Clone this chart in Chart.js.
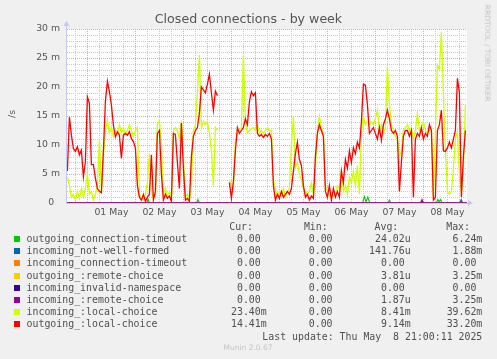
<!DOCTYPE html>
<html>
<head>
<meta charset="utf-8">
<script src="https://cdn.jsdelivr.net/npm/chart.js@4"></script>
<style>
html, body { margin: 0; padding: 0; }
body { background: #f0f0f0; width: 497px; height: 359px; overflow: hidden; position: relative; font-family: 'DejaVu Sans', sans-serif; color: #555; }
#chart { position: absolute; left: 0; top: 0; }
.t { position: absolute; white-space: pre; line-height: 12px; }
.mono { font-family: 'DejaVu Sans Mono', monospace; font-size: 9.9px; color: #505050; }
.sq { position: absolute; width: 6px; height: 6px; }
</style>
</head>
<body>
<canvas id="chart" width="497" height="359"></canvas>
<div class="t" style="left:248.5px; top:19px; transform:translate(-50%,-50%); font-size:12.6px; color:#555;">Closed connections - by week</div>
<div class="t" style="left:11.5px; top:113.5px; transform:translate(-50%,-50%) rotate(-90deg); font-size:9.3px;">/s</div>
<div class="t" style="left:487px; top:53px; transform:translate(-50%,-50%) rotate(90deg); font-size:7.5px; color:#c4c4c4;">RRDTOOL / TOBI OETIKER</div>
<div id="legend"></div>
<script>
// time axis: hours since 30 Apr 00:00, one sample per hour
const startHour = 14;
const dayLabels = ['01 May', '02 May', '03 May', '04 May', '05 May', '06 May', '07 May', '08 May'];

const outgoingLocal = [
  5.5, 14.8, 11.7, 9.4, 8.9, 9.7, 8.3, 9.1, 4.5, 7.1,
  18.3, 17.2, 6.6, 6.6, 4.3, 2.5, 2.0, 1.8, 9.0, 17.5,
  21.0, 19.2, 16.9, 13.4, 11.4, 12.3, 11.7, 7.7, 11.7, 12.0,
  11.7, 12.3, 11.1, 10.6, 9.5, 3.0, 1.0, 0.5, 1.5, 0.3,
  1.0, 1.5, 8.3, 0.5, 2.0, 12.0, 12.5, 5.0, 0.5, 1.5,
  0.8, 1.2, 0.3, 12.0, 11.8, 7.0, 2.5, 13.8, 6.0, 0.5,
  0.8, 0.3, 8.0, 11.5, 12.5, 13.0, 15.5, 20.0, 19.5, 19.0,
  20.5, 22.2, 19.0, 16.0, 19.3, 18.5, null, null, null, null,
  null, 3.5, 0.8, 3.7, 9.0, 13.0, 12.0, 12.5, 13.0, 14.5,
  13.5, 17.5, 19.2, 18.5, 19.0, 12.0, 11.5, 11.8, 11.3, 11.8,
  11.5, 12.0, 11.0, 3.0, 0.5, 1.5, 0.8, 2.0, 1.0, 1.5,
  2.0, 1.5, 2.5, 5.5, 8.5, 10.5, 7.5, 6.5, 3.0, 1.0,
  1.5, 0.5, 1.2, 0.8, 8.0, 12.0, 13.5, 12.5, 11.5, 2.0,
  1.0, 3.0, 0.5, 2.5, 1.0, 2.0, 1.0, 5.5, 3.5, 7.5,
  6.0, 9.0, 7.0, 9.5, 8.5, 10.5, 9.5, 14.0, 20.5, 20.3,
  17.0, 12.0, 12.5, 13.0, 12.0, 11.0, 13.0, 10.8, 13.5, 14.5,
  16.0, 14.5, 12.5, 12.0, 12.5, 11.5, 2.0, 7.0, 11.5, 12.5,
  12.5, 11.5, 12.5, 1.0, 11.0, 12.0, 11.5, 13.0, 11.0, 12.0,
  11.5, 13.5, 12.5, 0.5, 1.0, 12.5, 13.5, 16.0, 9.0, 8.9,
  9.5, 10.5, 9.5, 11.0, 12.5, 21.5, 19.0, 1.0, 8.0, 12.5
];

const incomingLocal = [
  4.5, 3.0, 1.0, 1.5, 0.5, 2.0, 0.8, 2.5, 1.0, 2.5,
  5.0, 1.5, 2.0, 0.5, 1.5, 3.0, 11.0, 2.0, 8.0, 12.5,
  14.3, 12.0, 13.0, 11.5, 12.5, 11.8, 13.5, 12.0, 13.0, 11.8,
  12.5, 13.5, 12.5, 11.5, 12.5, 13.0, 1.5, 1.0, 0.5, 1.5,
  3.5, 8.5, 2.0, 0.8, 1.0, 13.5, 14.2, 10.0, 1.5, 2.5,
  1.0, 2.0, 1.0, 12.5, 13.0, 12.5, 11.0, 14.2, 8.0, 1.0,
  1.5, 0.5, 3.0, 12.5, 13.5, 19.0, 25.5, 13.0, 14.0, 13.5,
  14.0, 12.0, 9.0, 3.0, 13.0, 12.5, null, null, null, null,
  null, 4.0, 3.0, 2.5, 10.5, 12.0, 12.5, 13.0, 25.5, 14.0,
  12.0, 12.5, 12.8, 13.0, 12.5, 13.5, 12.0, 12.5, 12.0, 12.5,
  13.0, 12.5, 12.5, 4.0, 2.5, 1.0, 2.0, 1.0, 2.5, 1.0,
  2.0, 2.5, 10.0, 15.0, 6.0, 7.0, 5.0, 4.0, 2.5, 2.0,
  1.5, 2.0, 3.5, 1.5, 6.0, 12.5, 15.0, 13.0, 12.0, 3.0,
  2.0, 1.0, 2.0, 1.0, 1.5, 3.0, 2.5, 5.5, 2.0, 3.0,
  1.5, 4.5, 3.5, 5.5, 3.0, 6.5, 1.5, 12.0, 15.0, 13.5,
  14.0, 13.5, 14.0, 13.5, 14.5, 16.0, 12.5, 13.5, 12.0, 13.0,
  23.5, 17.0, 13.5, 12.5, 11.5, 11.0, 8.0, 9.0, 12.5, 13.0,
  13.5, 12.5, 13.0, 11.0, 12.5, 15.5, 12.5, 13.0, 14.0, 12.5,
  12.0, 12.5, 13.0, 1.0, 12.0, 23.8, 23.0, 29.5, 19.0, 9.0,
  2.0, 1.5, 2.0, 6.0, 11.0, 12.3, 5.0, 2.0, 6.0, 17.0
];

// the small series are zero almost everywhere: [hour, value] pairs
const outgoingTimeout = [[13.8, 0], [53.6, 0], [54.3, 0.7], [55, 0], [78.6, 0], [79.3, 0.6], [80, 0],
  [161.6, 0], [162.5, 1.1], [163.3, 0.2], [164.2, 1.0], [165.2, 0], [174.3, 0], [175, 0.5], [175.7, 0],
  [198.4, 0], [199.2, 0.6], [199.9, 0.2], [200.6, 0.6], [201.3, 0], [213.8, 0]];
const incomingNotWellFormed = [[13.8, 0], [210.2, 0], [210.9, 0.6], [211.6, 0], [213.8, 0]];
const incomingTimeout = [[13.8, 0], [213.8, 0]];
const outgoingRemote = [[13.8, 0], [213.8, 0]];
const incomingInvalidNs = [[13.8, 0], [213.8, 0]];
const incomingRemote = [[13.8, 0], [190.6, 0], [191.3, 0.6], [192, 0], [213.8, 0]];

const names = ['outgoing_connection-timeout', 'incoming_not-well-formed', 'incoming_connection-timeout',
  'outgoing_:remote-choice', 'incoming_invalid-namespace', 'incoming_:remote-choice',
  'incoming_:local-choice', 'outgoing_:local-choice'];
const colors = ['#00cc00', '#0066b3', '#ff8000', '#ffcc00', '#330099', '#990099', '#ccff00', '#ff0000'];
const curVals = ['0.00 ', '0.00 ', '0.00 ', '0.00 ', '0.00 ', '0.00 ', '23.40m', '14.41m'];
const minVals = ['0.00 ', '0.00 ', '0.00 ', '0.00 ', '0.00 ', '0.00 ', '0.00 ', '0.00 '];
const avgVals = ['24.02u', '141.76u', '0.00 ', '3.81u', '0.00 ', '1.87u', '8.41m', '9.14m'];
const maxVals = ['6.24m', '1.88m', '0.00 ', '3.25m', '0.00 ', '3.25m', '39.62m', '33.20m'];

const pairs = arr => arr.map(p => ({x: p[0], y: p[1]}));
const hourly = arr => arr.map((v, i) => ({x: startHour + i, y: v}));

const seriesData = [
  pairs(outgoingTimeout), pairs(incomingNotWellFormed), pairs(incomingTimeout), pairs(outgoingRemote),
  pairs(incomingInvalidNs), pairs(incomingRemote), hourly(incomingLocal), hourly(outgoingLocal)
];
// munin draws the last one on top
const drawOrder = [7, 6, 5, 4, 3, 2, 1, 0];

let datasets = seriesData.map((d, i) => ({
  label: names[i],
  data: d,
  borderColor: colors[i],
  backgroundColor: colors[i],
  borderWidth: i >= 6 ? 1.3 : 1.1,
  pointRadius: 0,
  tension: 0,
  spanGaps: false,
  order: drawOrder[i]
}));

const majorGrid = '#eba3a3';
const minorGrid = '#c9c9c9';
const axisColor = '#c4c8f4';

// white plot area, dotted rrdtool grid, axis lines and arrows
const rrdFrame = {
  id: 'rrdFrame',
  beforeDraw(chart) {
    const a = chart.chartArea, c = chart.ctx;
    c.save();
    c.fillStyle = '#ffffff';
    c.fillRect(a.left, a.top, a.right - a.left, a.bottom - a.top);
    c.restore();
  },
  beforeDatasetsDraw(chart) {
    const a = chart.chartArea, c = chart.ctx;
    const xs = chart.scales.x, ys = chart.scales.y;
    c.save();
    c.lineWidth = 1;
    c.setLineDash([1, 1]);
    const line = (x1, y1, x2, y2, col) => {
      c.strokeStyle = col;
      c.beginPath();
      c.moveTo(x1, y1);
      c.lineTo(x2, y2);
      c.stroke();
    };
    // minor first, major over it
    [false, true].forEach(major => {
      ys.ticks.forEach(t => {
        if ((t.value % 5 === 0) !== major) return;
        const y = Math.round(ys.getPixelForValue(t.value)) + 0.5;
        line(a.left, y, a.right, y, major ? majorGrid : minorGrid);
      });
      xs.ticks.forEach(t => {
        if ((t.value % 24 === 0) !== major) return;
        const x = Math.round(xs.getPixelForValue(t.value)) + 0.5;
        line(x, a.top, x, a.bottom, major ? majorGrid : minorGrid);
      });
    });
    c.setLineDash([]);
    c.strokeStyle = axisColor;
    c.beginPath();
    c.moveTo(a.left - 0.5, a.bottom);
    c.lineTo(a.left - 0.5, a.top - 3);
    c.moveTo(a.left - 1, a.bottom + 0.5);
    c.lineTo(a.right + 2, a.bottom + 0.5);
    c.stroke();
    c.restore();
  },
  afterDraw(chart) {
    const a = chart.chartArea, c = chart.ctx;
    c.save();
    c.fillStyle = axisColor;
    c.beginPath();
    c.moveTo(a.left - 3.5, a.top - 3);
    c.lineTo(a.left + 2.5, a.top - 3);
    c.lineTo(a.left - 0.5, a.top - 8);
    c.closePath();
    c.fill();
    c.beginPath();
    c.moveTo(a.right + 1, a.bottom - 3);
    c.lineTo(a.right + 1, a.bottom + 3);
    c.lineTo(a.right + 6, a.bottom);
    c.closePath();
    c.fill();
    c.restore();
  }
};

const tickFont = {family: 'DejaVu Sans', size: 9.3};

new Chart(document.getElementById('chart').getContext('2d'), {
  type: 'line',
  data: {datasets: datasets},
  options: {
    responsive: false,
    animation: false,
    layout: {padding: {top: 29, right: 30, left: 0, bottom: 0}},
    plugins: {legend: {display: false}, tooltip: {enabled: false}, title: {display: false}},
    scales: {
      x: {
        type: 'linear',
        min: 13.8,
        max: 213.8,
        afterFit(s) { s.height = 156; },
        grid: {display: false, drawTicks: false},
        border: {display: false},
        ticks: {
          stepSize: 6,
          includeBounds: false,
          autoSkip: false,
          maxRotation: 0,
          maxTicksLimit: 1000,
          padding: 4,
          color: '#555',
          font: tickFont,
          callback: v => ((v - 12) % 24 === 0 && dayLabels[(v - 36) / 24]) ? dayLabels[(v - 36) / 24] : ''
        }
      },
      y: {
        min: 0,
        max: 30,
        afterFit(s) { s.width = 67; },
        grid: {display: false, drawTicks: false},
        border: {display: false},
        ticks: {
          stepSize: 1,
          autoSkip: false,
          maxTicksLimit: 1000,
          padding: 7,
          color: '#555',
          font: tickFont,
          callback: v => v % 5 !== 0 ? '' : (v === 0 ? '0  ' : v + ' m')
        }
      }
    }
  },
  plugins: [rrdFrame]
});

// munin style legend table under the graph
const legend = document.getElementById('legend');
function addText(txt, css, cls) {
  const d = document.createElement('div');
  d.className = 't ' + (cls || '');
  d.textContent = txt;
  d.style.cssText += css;
  legend.append(d);
}
const colRight = [230.3, 158.5, 86.3, 14.7];
const headRight = [244, 169.3, 98.7, 27];
['Cur:', 'Min:', 'Avg:', 'Max:'].forEach((h, j) => addText(h, `right:${headRight[j]}px; top:221.3px;`, 'mono'));
names.forEach((n, i) => {
  const cy = 239.3 + 12.06 * i;
  const sq = document.createElement('div');
  sq.className = 'sq';
  sq.style.cssText = `left:14px; top:${(cy - 3).toFixed(1)}px; background:${colors[i]};`;
  legend.append(sq);
  addText(n, `left:26.6px; top:${(cy - 6).toFixed(1)}px;`, 'mono');
  [curVals, minVals, avgVals, maxVals].forEach((col, j) => {
    addText(col[i], `right:${colRight[j]}px; top:${(cy - 6).toFixed(1)}px;`, 'mono');
  });
});
addText('Last update: Thu May  8 21:00:11 2025', 'right:14.7px; top:330.7px;', 'mono');
addText('Munin 2.0.67', 'left:248px; top:347.7px; transform:translate(-50%,-50%); font-size:7.5px; color:#c4c4c4;');
</script>
</body>
</html>
